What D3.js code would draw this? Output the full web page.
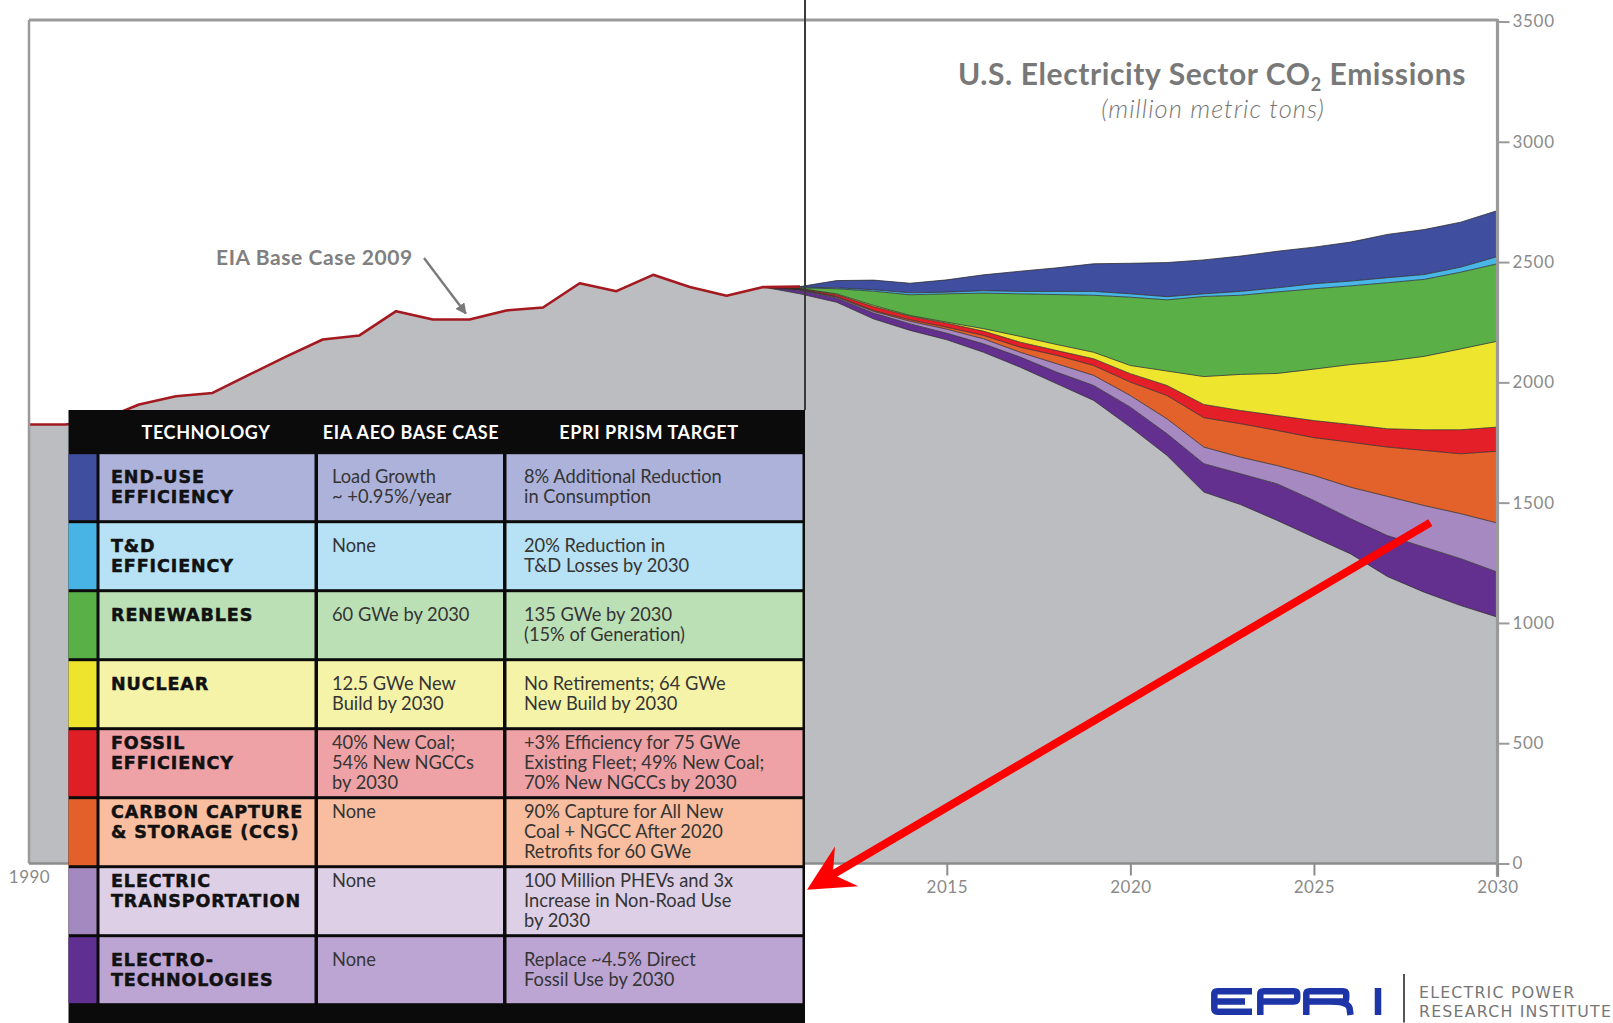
<!DOCTYPE html>
<html><head><meta charset="utf-8">
<script src="https://cdn.jsdelivr.net/npm/d3@7"></script>
<style>
html,body{margin:0;padding:0;background:#fff;}
svg{display:block;}
</style></head><body>
<svg id="chart" width="1613" height="1023"></svg>
<script>
// ---------------- DATA ----------------
const histYears = [1990,1991,1992,1993,1994,1995,1996,1997,1998,1999,2000,2001,2002,2003,2004,2005,2006,2007,2008,2009,2010];
const histEmissions = [1825,1825,1846,1908,1942,1956,2032,2107,2178,2195,2296,2261,2261,2299,2311,2412,2379,2447,2396,2360,2396];

const projYears = [2011,2012,2013,2014,2015,2016,2017,2018,2019,2020,2021,2022,2023,2024,2025,2026,2027,2028,2029,2030];
const remainingEmissions = [2368,2333,2264,2216,2177,2125,2063,1994,1925,1814,1696,1544,1492,1426,1356,1287,1193,1128,1072,1024];
const electroTechnologies  = [14,17,24,27,27,35,42,48,62,83,90,118,128,152,153,146,170,187,195,187];
const electricTransport    = [3,4,7,11,17,21,20,35,42,48,62,69,69,76,104,131,163,173,187,204];
const carbonCapture        = [1,3,4,6,8,14,21,35,41,56,97,122,139,146,157,187,205,229,249,299];
const fossilEfficiency     = [3,8,16,15,17,18,21,20,28,35,42,55,55,62,71,74,76,86,100,100];
const nuclear              = [1,3,5,3,4,10,24,25,27,34,60,116,150,175,214,249,281,305,336,357];
const renewables           = [3,21,59,86,118,148,177,208,237,284,296,333,329,339,334,327,326,320,319,322];
const tdEfficiency         = [3,4,6,8,7,10,10,13,16,14,13,11,16,17,21,20,21,20,21,30];
const endUseEfficiency     = [2,30,40,40,51,66,84,98,115,127,142,141,147,152,152,162,180,187,187,191];

const seriesKeys   = ["base","electroTech","electricTransport","ccs","fossilEff","nuclear","renewables","tdEff","endUse"];
const seriesColors = ["#bbbdc0","#63308f","#a689c1","#e3612a","#e41f27","#eee62e","#5baf47","#4ab5e7","#3f4e9f"];

const xTickValues = [1990,2015,2020,2025,2030];
const yTickValues = [0,500,1000,1500,2000,2500,3000,3500];

const tableHeaders = ["TECHNOLOGY","EIA AEO BASE CASE","EPRI PRISM TARGET"];
const techNames = [
  ["END-USE","EFFICIENCY"],
  ["T&D","EFFICIENCY"],
  ["RENEWABLES"],
  ["NUCLEAR"],
  ["FOSSIL","EFFICIENCY"],
  ["CARBON CAPTURE","& STORAGE (CCS)"],
  ["ELECTRIC","TRANSPORTATION"],
  ["ELECTRO-","TECHNOLOGIES"]
];
const eiaBaseCase = [
  ["Load Growth","~ +0.95%/year"],
  ["None"],
  ["60 GWe by 2030"],
  ["12.5 GWe New","Build by 2030"],
  ["40% New Coal;","54% New NGCCs","by 2030"],
  ["None"],
  ["None"],
  ["None"]
];
const epriTarget = [
  ["8% Additional Reduction","in Consumption"],
  ["20% Reduction in","T&D Losses by 2030"],
  ["135 GWe by 2030","(15% of Generation)"],
  ["No Retirements; 64 GWe","New Build by 2030"],
  ["+3% Efficiency for 75 GWe","Existing Fleet; 49% New Coal;","70% New NGCCs by 2030"],
  ["90% Capture for All New","Coal + NGCC After 2020","Retrofits for 60 GWe"],
  ["100 Million PHEVs and 3x","Increase in Non-Road Use","by 2030"],
  ["Replace ~4.5% Direct","Fossil Use by 2030"]
];
const swatchColors = ["#3f4e9f","#48b4e6","#59b047","#eee42e","#df1f26","#e3602a","#a488c0","#5f2f91"];
const cellColors   = ["#adb2da","#b7e1f4","#bce0b6","#f5f3a8","#efa2a6","#f8be9f","#ddcfe6","#bda5d3"];

// ---------------- BUILD ----------------
const svg = d3.select("#chart");
svg.append("rect").attr("width",1613).attr("height",1023).attr("fill","#fff");

const x = d3.scaleLinear().domain([1990,2030]).range([29,1497.5]);
const y = d3.scaleLinear().domain([0,3500]).range([863.5,21.5]);

const wedgeArrays = [electroTechnologies,electricTransport,carbonCapture,fossilEfficiency,nuclear,renewables,tdEfficiency,endUseEfficiency];
const rows = [];
histYears.forEach((yr,i)=>{
  const r = {year:yr, base:histEmissions[i]};
  seriesKeys.slice(1).forEach(k=>r[k]=0);
  rows.push(r);
});
projYears.forEach((yr,i)=>{
  const r = {year:yr, base:remainingEmissions[i]};
  seriesKeys.slice(1).forEach((k,j)=>r[k]=wedgeArrays[j][i]);
  rows.push(r);
});

const stacked = d3.stack().keys(seriesKeys)(rows);
const area = d3.area().x(d=>x(d.data.year)).y0(d=>y(d[0])).y1(d=>y(d[1]));

const gChart = svg.append("g");
gChart.selectAll("path.layer").data(stacked).join("path")
  .attr("class","layer")
  .attr("d",area)
  .attr("fill",(d,i)=>seriesColors[i]);

// boundary outlines in projection
const projLine = d3.line().x(d=>x(d.data.year)).y(d=>y(d[1]));
stacked.forEach((layer)=>{
  const pts = layer.filter(d=>d.data.year>=2010);
  gChart.append("path").attr("d",projLine(pts))
    .attr("fill","none").attr("stroke","#2a2a2a").attr("stroke-width",0.9).attr("stroke-opacity",0.85);
});

// EIA base case red line (historical top)
const topLayer = stacked[stacked.length-1];
const histTop = topLayer.filter(d=>d.data.year<=2011);
gChart.append("path").attr("d",projLine(histTop))
  .attr("fill","none").attr("stroke","#a3191f").attr("stroke-width",2.6).attr("stroke-linejoin","round");

// frame lines
svg.append("line").attr("x1",29).attr("x2",1497.5).attr("y1",20).attr("y2",20)
  .attr("stroke","#9a9a9a").attr("stroke-width",3);
svg.append("line").attr("x1",29).attr("x2",29).attr("y1",20).attr("y2",863.5)
  .attr("stroke","#9a9a9a").attr("stroke-width",2.5);
svg.append("line").attr("x1",29).attr("x2",1497.5).attr("y1",863.5).attr("y2",863.5)
  .attr("stroke","#8c8c8c").attr("stroke-width",2.5);
svg.append("line").attr("x1",1497.5).attr("x2",1497.5).attr("y1",19).attr("y2",877)
  .attr("stroke","#9a9a9a").attr("stroke-width",3.2);

// y axis (right)
const yAxis = d3.axisRight(y).tickValues(yTickValues).tickSize(12).tickPadding(3).tickFormat(d3.format("d"));
const gy = svg.append("g").attr("transform","translate(1497.5,0)").call(yAxis);
gy.select(".domain").remove();
gy.selectAll(".tick line").attr("stroke","#9a9a9a").attr("stroke-width",2);
gy.selectAll(".tick text").attr("fill","#8a8a8a").attr("font-family","Lato, 'DejaVu Sans', sans-serif")
  .attr("font-size",17).attr("letter-spacing","0.7px");

// x axis (bottom)
const xAxis = d3.axisBottom(x).tickValues(xTickValues).tickSize(12).tickPadding(5).tickFormat(d3.format("d"));
const gx = svg.append("g").attr("transform","translate(0,863.5)").call(xAxis);
gx.select(".domain").remove();
gx.selectAll(".tick line").attr("stroke","#8c8c8c").attr("stroke-width",2)
  .attr("opacity",d=>d===1990?0:1);
gx.selectAll(".tick text").attr("fill","#8a8a8a").attr("font-family","Lato, 'DejaVu Sans', sans-serif")
  .attr("font-size",17).attr("letter-spacing","0.5px")
  .attr("y",d=>d===1990?7:17);

// title
const title = svg.append("text").attr("x",1212).attr("y",85).attr("text-anchor","middle")
  .attr("font-family","Lato, 'DejaVu Sans', sans-serif").attr("font-weight",700)
  .attr("font-size",30).attr("letter-spacing","0.6px").attr("fill","#787878");
title.append("tspan").text("U.S. Electricity Sector CO");
title.append("tspan").text("2").attr("font-size",18).attr("dy",6);
title.append("tspan").text(" Emissions").attr("dy",-6);
svg.append("text").attr("x",1213).attr("y",118).attr("text-anchor","middle")
  .attr("font-family","Lato, 'DejaVu Sans', sans-serif").attr("font-style","italic").attr("font-weight",300)
  .attr("font-size",25.5).attr("letter-spacing","1px").attr("fill","#777").text("(million metric tons)");

// EIA annotation
svg.append("defs").append("marker").attr("id","garrow")
  .attr("viewBox","0 0 10 10").attr("refX",9).attr("refY",5)
  .attr("markerWidth",11).attr("markerHeight",11).attr("markerUnits","userSpaceOnUse")
  .attr("orient","auto")
  .append("path").attr("d","M0,0 L10,5 L0,10 z").attr("fill","#7a7a7a");
svg.append("text").attr("x",216).attr("y",265).attr("font-family","Lato, 'DejaVu Sans', sans-serif")
  .attr("font-weight",700).attr("font-size",21).attr("letter-spacing","0.6px").attr("fill","#808080").text("EIA Base Case 2009");
svg.append("line").attr("x1",424).attr("y1",258)
  .attr("x2",x(2001.9)).attr("y2",y(histEmissions[12])-6)
  .attr("stroke","#7a7a7a").attr("stroke-width",2.4).attr("marker-end","url(#garrow)");

// vertical divider line
const tableLeft = 68.5, tableRight = 805, headerTop = 410, headerBottom = 452.7, rowH = 69;
svg.append("line").attr("x1",tableRight).attr("x2",tableRight).attr("y1",0).attr("y2",headerTop)
  .attr("stroke","#3a3a3a").attr("stroke-width",2);

// ---------------- TABLE ----------------
const gT = svg.append("g");
gT.append("rect").attr("x",tableLeft).attr("y",headerTop).attr("width",tableRight-tableLeft)
  .attr("height",1023-headerTop).attr("fill","#0b0b0b");
const cols = [[68.5,96.5],[99.5,314.5],[318,503],[506.5,802.5]];
const headerCenters = [206,411,649];
tableHeaders.forEach((h,i)=>{
  gT.append("text").attr("x",headerCenters[i]).attr("y",439).attr("text-anchor","middle")
    .attr("font-family","Lato, 'DejaVu Sans', sans-serif").attr("font-weight",700)
    .attr("font-size",18).attr("letter-spacing","0.6px").attr("fill","#fff").text(h);
});
techNames.forEach((tn,i)=>{
  const top = headerBottom + i*rowH;
  gT.append("rect").attr("x",cols[0][0]).attr("y",top+1.5).attr("width",cols[0][1]-cols[0][0])
    .attr("height",rowH-3).attr("fill",swatchColors[i]);
  [1,2,3].forEach(c=>{
    gT.append("rect").attr("x",cols[c][0]).attr("y",top+1.5).attr("width",cols[c][1]-cols[c][0])
      .attr("height",rowH-3).attr("fill",cellColors[i]);
  });
  const maxLines = Math.max(2, tn.length, eiaBaseCase[i].length, epriTarget[i].length);
  const base = top + 30 - (maxLines-2)*10;
  const t1 = gT.append("text").attr("font-family","'DejaVu Sans', sans-serif").attr("font-weight",700)
    .attr("font-size",17.5).attr("fill","#111").attr("stroke","#111").attr("stroke-width",0.5)
    .attr("letter-spacing","0.9px");
  tn.forEach((ln,k)=>t1.append("tspan").attr("x",111).attr("y",base+k*20).text(ln));
  const t2 = gT.append("text").attr("font-family","Lato, 'DejaVu Sans', sans-serif")
    .attr("font-size",18.3).attr("fill","#353535");
  eiaBaseCase[i].forEach((ln,k)=>t2.append("tspan").attr("x",332).attr("y",base+k*20).text(ln));
  const t3 = gT.append("text").attr("font-family","Lato, 'DejaVu Sans', sans-serif")
    .attr("font-size",18.3).attr("fill","#353535");
  epriTarget[i].forEach((ln,k)=>t3.append("tspan").attr("x",524).attr("y",base+k*20).text(ln));
});

// ---------------- RED ARROW ----------------
const aStart = [x(2028.17), y(1417)];
const aTip = [tableRight+2, headerBottom + 6*rowH + 23];
const dx = aTip[0]-aStart[0], dy = aTip[1]-aStart[1];
const len = Math.hypot(dx,dy);
const ux = dx/len, uy = dy/len;
const px = -uy, py = ux;
const notch = [aTip[0]-30*ux, aTip[1]-30*uy];
const barb1 = [aTip[0]-46*ux+23*px, aTip[1]-46*uy+23*py];
const barb2 = [aTip[0]-46*ux-23*px, aTip[1]-46*uy-23*py];
svg.append("line").attr("x1",aStart[0]).attr("y1",aStart[1]).attr("x2",notch[0]+4*ux).attr("y2",notch[1]+4*uy)
  .attr("stroke","#ff0000").attr("stroke-width",8);
svg.append("path").attr("d",`M${aTip}L${barb1}L${notch}L${barb2}Z`).attr("fill","#ff0000");

// ---------------- LOGO ----------------
const gL = svg.append("g").attr("fill","none").attr("stroke","#1d35a6").attr("stroke-width",6.5)
  .attr("stroke-linejoin","round");
gL.append("path").attr("d","M1252,991.3 H1217.5 Q1214.3,991.3 1214.3,994.5 V1008.5 Q1214.3,1011.7 1217.5,1011.7 H1252 M1214.3,1001.5 H1245");
gL.append("path").attr("d","M1260.3,1015 V994.5 Q1260.3,991.3 1263.5,991.3 H1294 Q1297.2,991.3 1297.2,994.5 V998.3 Q1297.2,1001.5 1294,1001.5 H1260.3");
gL.append("path").attr("d","M1306.3,1015 V994.5 Q1306.3,991.3 1309.5,991.3 H1343 Q1346.2,991.3 1346.2,994.5 V998.3 Q1346.2,1001.5 1343,1001.5 H1306.3 M1330,1001.5 Q1347.5,1001.5 1349.5,1008 L1350.5,1015");
gL.append("path").attr("d","M1378,988 V1015");
svg.append("line").attr("x1",1404).attr("x2",1404).attr("y1",974).attr("y2",1022.5)
  .attr("stroke","#555").attr("stroke-width",2);
svg.append("text").attr("x",1419).attr("y",997.5).attr("font-family","'DejaVu Sans', sans-serif")
  .attr("font-size",15.8).attr("fill","#767676").attr("letter-spacing","1.2px").text("ELECTRIC POWER");
svg.append("text").attr("x",1419).attr("y",1016.5).attr("font-family","'DejaVu Sans', sans-serif")
  .attr("font-size",15.8).attr("fill","#767676").attr("letter-spacing","1.2px").text("RESEARCH INSTITUTE");
</script>
</body></html>
